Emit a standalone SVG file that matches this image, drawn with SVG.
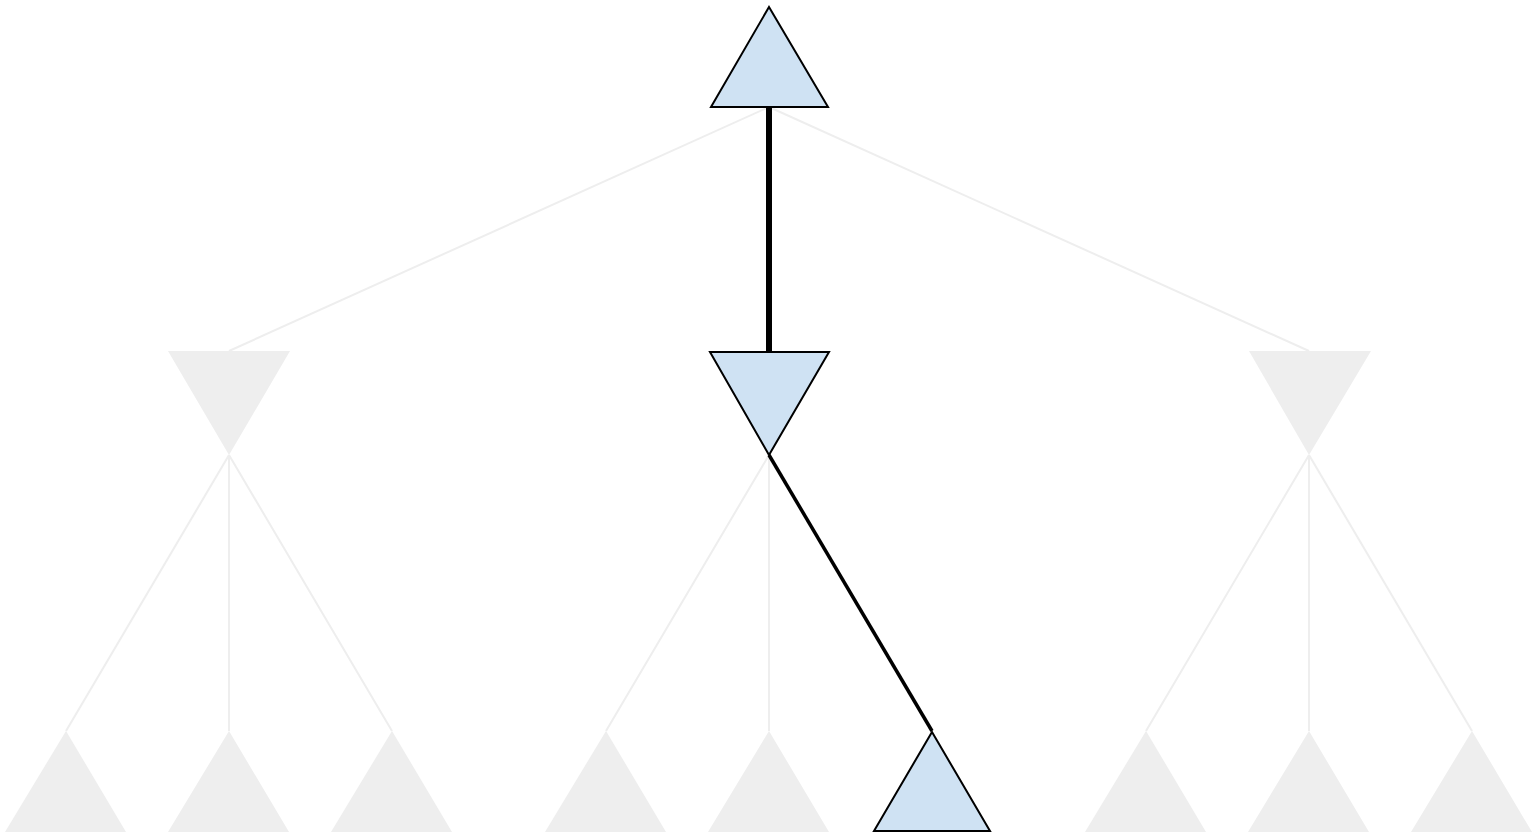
<svg xmlns="http://www.w3.org/2000/svg" width="1537" height="834" viewBox="0 0 1537 834">
  <style>
    .edge { stroke: #eeeeee; stroke-width: 2; fill: none; }
    .edge-on { stroke: #000000; fill: none; }
    .node { fill: #eeeeee; stroke: none; }
    .node-on { fill: #cfe2f3; stroke: #000000; stroke-width: 2; stroke-linejoin: miter; }
  </style>
  <rect width="1537" height="834" fill="#ffffff"/>
  <g id="connectors">
    <line class="edge" x1="769" y1="107" x2="229" y2="351"/>
    <line class="edge" x1="769" y1="107" x2="1309" y2="351"/>
    <line class="edge" x1="229" y1="455" x2="66" y2="731"/>
    <line class="edge" x1="229" y1="455" x2="229" y2="731"/>
    <line class="edge" x1="229" y1="455" x2="392" y2="731"/>
    <line class="edge" x1="769" y1="455" x2="606" y2="731"/>
    <line class="edge" x1="769" y1="455" x2="769" y2="731"/>
    <line class="edge" x1="1309" y1="455" x2="1146" y2="731"/>
    <line class="edge" x1="1309" y1="455" x2="1309" y2="731"/>
    <line class="edge" x1="1309" y1="455" x2="1472" y2="731"/>
    <line class="edge-on" x1="769" y1="107" x2="769" y2="351" stroke-width="6"/>
    <line class="edge-on" x1="769" y1="455" x2="932" y2="731" stroke-width="3.5"/>
  </g>
  <g id="root">
    <polygon class="node-on" points="769,7 828,107 711,107"/>
  </g>
  <g id="mid-left">
    <polygon class="node" points="168,351 290,351 229,455"/>
  </g>
  <g id="mid-center">
    <polygon class="node-on" points="710,352 829,352 769,455"/>
  </g>
  <g id="mid-right">
    <polygon class="node" points="1249,351 1371,351 1309,455"/>
  </g>
  <g id="leaf-1"><polygon class="node" points="66,731 126,832 5,832"/></g>
  <g id="leaf-2"><polygon class="node" points="229,731 289,832 168,832"/></g>
  <g id="leaf-3"><polygon class="node" points="392,731 452,832 331,832"/></g>
  <g id="leaf-4"><polygon class="node" points="606,731 666,832 545,832"/></g>
  <g id="leaf-5"><polygon class="node" points="769,731 829,832 708,832"/></g>
  <g id="leaf-6"><polygon class="node-on" points="932,732 990,831 874,831"/></g>
  <g id="leaf-7"><polygon class="node" points="1146,731 1206,832 1085,832"/></g>
  <g id="leaf-8"><polygon class="node" points="1309,731 1369,832 1248,832"/></g>
  <g id="leaf-9"><polygon class="node" points="1472,731 1532,832 1411,832"/></g>
</svg>
